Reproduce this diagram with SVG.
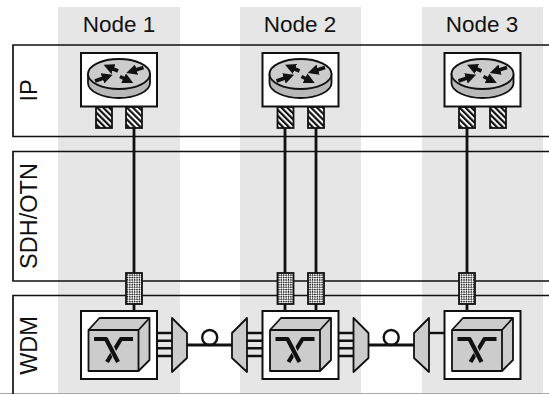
<svg xmlns="http://www.w3.org/2000/svg" width="549" height="394" viewBox="0 0 549 394">
<style>
.band{fill:#e6e6e6}
.lane{fill:none;stroke:#111;stroke-width:1.7}
.lbl{font-family:"Liberation Sans",Arial,sans-serif;font-size:22.500px;fill:#111}
.side{font-size:23.500px}
.box{fill:#fff;stroke:#111;stroke-width:2}
.port{fill:url(#hatch);stroke:#111;stroke-width:1.800}
.mesh{fill:url(#check);stroke:#111;stroke-width:1.800}
.link{fill:none;stroke:#111;stroke-width:2.800}
.thin{fill:none;stroke:#111;stroke-width:2.400}
.grey{fill:#ccc;stroke:#111;stroke-width:1.800;stroke-linejoin:round}
.xbar{fill:none;stroke:#111;stroke-width:4.200;stroke-linejoin:round}
.arr{fill:none;stroke:#111;stroke-width:3.600;marker-end:url(#ah)}
</style>
<defs>
<pattern id="hatch" width="4.200" height="4.200" patternUnits="userSpaceOnUse" patternTransform="rotate(-45)">
<rect width="4.200" height="4.200" fill="#fff"/><rect width="2.200" height="4.200" fill="#111"/>
</pattern>
<pattern id="check" width="3.400" height="3.400" patternUnits="userSpaceOnUse" patternTransform="rotate(45)">
<rect width="3.400" height="3.400" fill="#fff"/><rect width="1.500" height="1.500" fill="#111"/><rect x="1.700" y="1.700" width="1.500" height="1.500" fill="#111"/>
</pattern>
<marker id="ah" viewBox="0 0 4 4" refX="1" refY="2" markerWidth="3" markerHeight="3" orient="auto">
<path d="M0 0L4 2L0 4Z" fill="#111"/>
</marker>
<g id="router">
<rect class="box" x="81" y="53" width="76" height="53.500"/>
<path class="grey" d="M88 74V83C88 91 102 98 119 98S150 91 150 83V74Z" style="fill:#b8b8b8"/>
<ellipse class="grey" cx="119" cy="74" rx="31" ry="15"/>
<path class="arr" d="M118 71L111 68"/>
<path class="arr" d="M143.500 67.500L134 70.500"/>
<path class="arr" d="M95 81L105 77.500"/>
<path class="arr" d="M120 76.500L126 79.500"/>
</g>
<g id="oxc">
<rect class="box" x="81" y="311" width="76" height="68"/>
<path class="grey" d="M88.500 330L99.500 318H149.500V360L138.500 371H88.500Z"/>
<path class="grey" d="M88.500 330H138.500L149.500 318M138.500 330V371" style="fill:none"/>
<path class="xbar" d="M133 339H121L107 362"/>
<path d="M94 339H107L118 362" fill="none" stroke="#ccc" stroke-width="6"/>
<path class="xbar" d="M94 339H106L118 362"/>
</g>
<g id="muxR">
<path class="thin" d="M157 333H172M157 340.700H172M157 348.300H172M157 356H172"/>
<path class="grey" d="M172 318L187 333V358L172 372Z"/>
</g>
<g id="fibre">
<path class="link" d="M187 345H233"/>
<circle cx="209.700" cy="337.500" r="7.500" fill="none" stroke="#111" stroke-width="2.400"/>
</g>
</defs>
<g id="bands">
<rect class="band" x="58" y="7" width="122" height="386"/>
<rect class="band" x="240" y="7" width="121" height="386"/>
<rect class="band" x="422" y="7" width="121" height="386"/>
<path d="M0 393.500H549" stroke="#aaa" stroke-width="1"/>
</g>
<g id="lanes">
<path class="lane" d="M549 45H13V136.500H549"/>
<path class="lane" d="M549 151.500H13V281H549"/>
<path class="lane" d="M549 295.500H13V394"/>
</g>
<g id="labels">
<text class="lbl" x="119" y="31.500" text-anchor="middle">Node 1</text>
<text class="lbl" x="300" y="31.500" text-anchor="middle">Node 2</text>
<text class="lbl" x="482" y="31.500" text-anchor="middle">Node 3</text>
<text class="lbl side" transform="translate(37 90.500) rotate(-90)" text-anchor="middle">IP</text>
<text class="lbl side" transform="translate(37 216) rotate(-90)" text-anchor="middle">SDH/OTN</text>
<text class="lbl side" transform="translate(37 345.500) rotate(-90)" text-anchor="middle">WDM</text>
</g>
<g id="connectors">
<path class="link" d="M134 128V311M285 128V311M316 128V311M467 128V311"/>
<use href="#fibre"/>
<use href="#fibre" x="181.500"/>
<path class="thin" d="M429 333H444"/>
</g>
<g id="node1">
<use href="#router"/><use href="#oxc"/>
<rect class="port" x="96" y="107" width="16" height="21"/>
<rect class="port" x="126" y="107" width="16" height="21"/>
<rect class="mesh" x="126" y="273" width="16" height="31"/>
<use href="#muxR"/>
</g>
<g id="node2">
<use href="#router" x="181.500"/><use href="#oxc" x="181.500"/>
<rect class="port" x="277.500" y="107" width="16" height="21"/>
<rect class="port" x="308" y="107" width="16" height="21"/>
<rect class="mesh" x="277.500" y="273" width="16" height="31"/>
<rect class="mesh" x="308" y="273" width="16" height="31"/>
<use href="#muxR" x="181.500"/>
<use href="#muxR" transform="matrix(-1 0 0 1 419 0)"/>
</g>
<g id="node3">
<use href="#router" x="363.500"/><use href="#oxc" x="363.500"/>
<rect class="port" x="459" y="107" width="16" height="21"/>
<rect class="port" x="490" y="107" width="16" height="21"/>
<rect class="mesh" x="459" y="273" width="16" height="31"/>
<path class="grey" d="M429 318L414 333V358L429 372Z"/>
</g>
</svg>
